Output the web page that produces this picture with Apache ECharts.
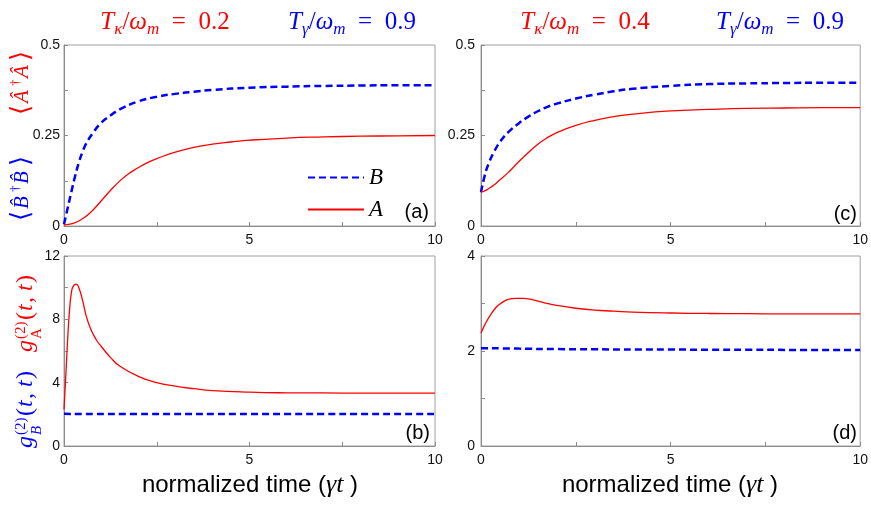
<!DOCTYPE html>
<html>
<head>
<meta charset="utf-8">
<script src="https://cdn.jsdelivr.net/npm/echarts@6/dist/echarts.min.js"></script>
<style>html,body{margin:0;padding:0;background:#fff}#c{width:871px;height:508px}</style>
</head>
<body>
<div id="c"></div>
<script>
// ---- data ----
var xTicks = [0, 5, 10];

// panel (a): occupation numbers, T_kappa/w_m = 0.2
var tA_A = [0,0.25,0.5,0.75,1,1.25,1.5,1.75,2,2.25,2.5,3,3.5,4,4.5,5,6,7,8,9,10];
var nA_a = [0.003,0.007,0.02,0.041,0.069,0.098,0.124,0.145,0.161,0.175,0.186,0.204,0.217,0.226,0.232,0.237,0.243,0.246,0.248,0.249,0.25];
var tA_B = [0,0.1,0.2,0.3,0.4,0.5,0.6,0.8,1,1.25,1.5,2,2.5,3,3.5,4,5,6,7,8,9,10];
var nB_a = [0.005,0.05,0.095,0.138,0.175,0.205,0.228,0.26,0.285,0.305,0.322,0.344,0.357,0.365,0.371,0.376,0.382,0.385,0.387,0.388,0.389,0.389];

// panel (b): g2, T_kappa/w_m = 0.2
var tB_A = [0,0.05,0.1,0.15,0.2,0.25,0.33,0.4,0.5,0.6,0.7,0.8,0.9,1,1.25,1.5,2,2.5,3,3.5,4,5,6,7,8,10];
var gA_b = [2.3,4.5,6.8,8.6,9.7,10.1,10.22,10.0,9.2,8.2,7.5,7.0,6.6,6.3,5.6,5.05,4.4,4.0,3.78,3.62,3.5,3.4,3.36,3.35,3.34,3.34];
var tB_B = [0,2,5,10];
var gB_b = [2.03,2.02,2.02,2.02];

// panel (c): occupation numbers, T_kappa/w_m = 0.4
var tC = [0,0.1,0.2,0.35,0.5,0.7,1,1.25,1.5,1.75,2,2.5,3,3.5,4,5,6,7,8,9,10];
var nB_c = [0.093,0.14,0.172,0.206,0.232,0.257,0.284,0.302,0.317,0.329,0.338,0.352,0.363,0.372,0.379,0.387,0.392,0.394,0.395,0.396,0.396];
var nA_c = [0.094,0.097,0.103,0.114,0.128,0.146,0.178,0.203,0.226,0.244,0.258,0.278,0.292,0.302,0.309,0.318,0.322,0.325,0.326,0.327,0.327];

// panel (d): g2, T_kappa/w_m = 0.4
var tD_A = [0,0.1,0.25,0.4,0.5,0.7,0.9,1.1,1.4,1.7,2,2.5,3,3.5,4,5,6,7,8,10];
var gA_d = [2.38,2.55,2.76,2.92,2.99,3.08,3.11,3.11,3.07,3.01,2.96,2.9,2.86,2.84,2.82,2.8,2.79,2.785,2.78,2.78];
var tD_B = [0,1,2,5,10];
var gB_d = [2.06,2.05,2.04,2.03,2.02];

var titlesKappa = ['0.2', '0.4'];
var titleGamma = '0.9';
var panelLabels = ['(a)', '(b)', '(c)', '(d)'];

// ---- helpers ----
function zip(t, v) { return t.map(function (x, i) { return [x, v[i]]; }); }
var RED = '#ff0000', BLUE = '#0000ff', GRAY = '#8c8c8c';
var SANS = '"Liberation Sans", Arial, sans-serif';
var SERIF = '"Liberation Serif", "DejaVu Serif", serif';

var grids = [
  {left: 64, top: 45, width: 371, height: 181},
  {left: 64, top: 256, width: 371, height: 190},
  {left: 481, top: 45, width: 381, height: 181},
  {left: 481, top: 256, width: 381, height: 190}
];
grids.forEach(function (g) { g.show = true; g.borderColor = '#a0a0a0'; g.borderWidth = 1; g.backgroundColor = 'transparent'; });

var yRanges = [[0, 0.5, 0.25], [0, 12, 4], [0, 0.5, 0.25], [0, 4, 2]];

function xAxisFor(i) {
  return {
    type: 'value', gridIndex: i, min: 0, max: 10, interval: 5,
    axisLine: {show: true, lineStyle: {color: GRAY, width: 1}},
    axisTick: {show: true, inside: true, length: 4, lineStyle: {color: GRAY}},
    minorTick: {show: true, splitNumber: 2, length: 4, lineStyle: {color: GRAY}},
    splitLine: {show: false},
    axisLabel: {margin: 7, color: '#111', fontSize: 14, fontFamily: SANS,
      formatter: function (v) { return xTicks.indexOf(v) >= 0 ? String(v) : ''; }}
  };
}
function yAxisFor(i) {
  var r = yRanges[i];
  return {
    type: 'value', gridIndex: i, min: r[0], max: r[1], interval: r[2],
    axisLine: {show: true, lineStyle: {color: GRAY, width: 1}},
    axisTick: {show: true, inside: true, length: 4, lineStyle: {color: GRAY}},
    minorTick: {show: true, splitNumber: 2, length: 4, lineStyle: {color: GRAY}},
    splitLine: {show: false},
    axisLabel: {margin: i >= 2 ? 6 : 4, color: '#111', fontSize: 14, fontFamily: SANS}
  };
}

function lineSeries(name, i, data, color, dashed) {
  return {
    name: name, type: 'line', xAxisIndex: i, yAxisIndex: i, data: data,
    showSymbol: false, symbol: 'none', smooth: 0.5, animation: false,
    lineStyle: dashed ? {color: color, width: 2.5, type: [7, 4]} : {color: color, width: 1.3},
    itemStyle: {color: color}
  };
}

var series = [
  lineSeries('B', 0, zip(tA_B, nB_a), BLUE, true),
  lineSeries('A', 0, zip(tA_A, nA_a), RED, false),
  lineSeries('gB_b', 1, zip(tB_B, gB_b), BLUE, true),
  lineSeries('gA_b', 1, zip(tB_A, gA_b), RED, false),
  lineSeries('B_c', 2, zip(tC, nB_c), BLUE, true),
  lineSeries('A_c', 2, zip(tC, nA_c), RED, false),
  lineSeries('gB_d', 3, zip(tD_B, gB_d), BLUE, true),
  lineSeries('gA_d', 3, zip(tD_A, gA_d), RED, false)
];

// ---- text annotations ----
var titleRich = function (color) {
  return {
    it: {font: 'italic 25px ' + SERIF, fill: color, color: color, lineHeight: 32, verticalAlign: 'middle'},
    n: {font: '25px ' + SERIF, fill: color, color: color, lineHeight: 32, verticalAlign: 'middle'},
    sub: {font: 'italic 17px ' + SERIF, fill: color, color: color, lineHeight: 17, verticalAlign: 'bottom'}
  };
};
function titleText(x, y, sym, val, color) {
  return {
    type: 'text', x: x, y: y,
    style: {
      text: '{it|T}{sub|' + sym + '}{n|/}{it|ω}{sub|m}{n|\u2002=\u2002' + val + '}',
      rich: titleRich(color), fill: color,
      textAlign: 'center', textVerticalAlign: 'middle', align: 'center', verticalAlign: 'middle'
    }
  };
}

// text at local (x,y) with given vertical alignment
function t(x, y, str, font, color, va) {
  va = va || 'bottom';
  return {type: 'text', x: x, y: y, style: {text: str, font: font, fill: color, textAlign: 'left', textVerticalAlign: va, align: 'left', verticalAlign: va}};
}

// y-axis label of (a): rotated group, local x runs upward, local y runs rightward
var BR = '26px "DejaVu Serif"';
var LT = 'italic 21px ' + SERIF;
var DG = '13px ' + SERIF;
var yLabelA = {
  type: 'group', x: 29, y: 221, rotation: Math.PI / 2,
  children: [
    t(0, -7, '⟨', BR, BLUE, 'middle'),
    t(12, 4, 'B\u0302', LT, BLUE),
    t(29, -13, '†', DG, BLUE, 'middle'),
    t(37, 4, 'B\u0302', LT, BLUE),
    t(55, -7, '⟩', BR, BLUE, 'middle'),
    t(106, -7, '⟨', BR, RED, 'middle'),
    t(118, 4, 'A\u0302', LT, RED),
    t(135, -13, '†', DG, RED, 'middle'),
    t(143, 4, 'A\u0302', LT, RED),
    t(160, -7, '⟩', BR, RED, 'middle')
  ]
};
// y-axis label of (b)
var GF = 'italic 24px ' + SERIF, PF = '24px ' + SERIF, SF = '15px ' + SERIF, SFI = 'italic 15px ' + SERIF;
var yLabelB = {
  type: 'group', x: 33, y: 448, rotation: Math.PI / 2,
  children: [
    t(0, 5, 'g', GF, BLUE),
    t(13, -12, '(2)', SF, BLUE, 'middle'),
    t(13, 4, 'B', SFI, BLUE, 'middle'),
    t(32, 5, '(', PF, BLUE),
    t(41, 5, 't', GF, BLUE),
    t(49, 5, ',', PF, BLUE),
    t(61, 5, 't', GF, BLUE),
    t(69, 5, ')', PF, BLUE),
    t(96, 5, 'g', GF, RED),
    t(109, -12, '(2)', SF, RED, 'middle'),
    t(109, 4, 'A', SF, RED, 'middle'),
    t(128, 5, '(', PF, RED),
    t(137, 5, 't', GF, RED),
    t(145, 5, ',', PF, RED),
    t(157, 5, 't', GF, RED),
    t(165, 5, ')', PF, RED)
  ]
};

function xTitle(cx) {
  return {
    type: 'text', x: cx, y: 485,
    style: {
      text: '{s|normalized time (}{m|γt}{s| )}',
      rich: {
        s: {font: '24px ' + SANS, fill: '#000', color: '#000', lineHeight: 30},
        m: {font: 'italic 26px ' + SERIF, fill: '#000', color: '#000', lineHeight: 30}
      },
      textAlign: 'center', textVerticalAlign: 'middle', align: 'center', verticalAlign: 'middle'
    }
  };
}
function panelLabel(x, y, s) {
  return {type: 'text', x: x, y: y, style: {text: s, font: '20px ' + SANS, fill: '#000', textAlign: 'right', textVerticalAlign: 'middle', align: 'right', verticalAlign: 'middle'}};
}

var graphics = [
  titleText(165, 22, 'κ', titlesKappa[0], RED),
  titleText(352, 22, 'γ', titleGamma, BLUE),
  titleText(585, 22, 'κ', titlesKappa[1], RED),
  titleText(780, 22, 'γ', titleGamma, BLUE),
  yLabelA, yLabelB,
  xTitle(250), xTitle(670),
  panelLabel(429, 212, panelLabels[0]),
  panelLabel(430, 433, panelLabels[1]),
  panelLabel(857, 214, panelLabels[2]),
  panelLabel(857, 433, panelLabels[3])
];

var chart = echarts.init(document.getElementById('c'), null, {renderer: 'canvas'});
chart.setOption({
  animation: false,
  backgroundColor: '#fff',
  grid: grids,
  xAxis: [0, 1, 2, 3].map(xAxisFor),
  yAxis: [0, 1, 2, 3].map(yAxisFor),
  legend: {
    data: ['B', 'A'], orient: 'vertical', left: 302, top: 161,
    itemWidth: 56, itemHeight: 20, itemGap: 9,
    itemStyle: {opacity: 0},
    textStyle: {fontFamily: SERIF, fontStyle: 'italic', fontSize: 23, color: '#000'},
    selectedMode: false
  },
  series: series,
  graphic: graphics
});
</script>
</body>
</html>
